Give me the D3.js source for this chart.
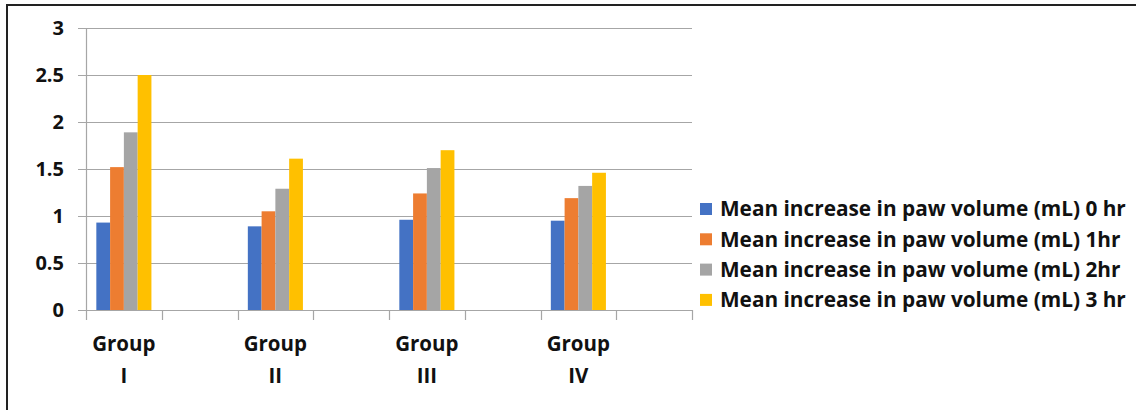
<!DOCTYPE html>
<html><head><meta charset="utf-8">
<script src="https://cdn.jsdelivr.net/npm/d3@7"></script>
<style>body{margin:0;background:#fff}svg{display:block}text{font-family:"Open Sans",sans-serif;font-weight:bold;fill:#111}</style>
</head><body><svg id="c" width="1136" height="410"></svg>
<script>
const slots = ["Group I", "gap1", "Group II", "gap2", "Group III", "gap3", "Group IV", "gap4"];
const groups = ["Group I", "Group II", "Group III", "Group IV"];
const seriesNames = [
  "Mean increase in paw volume (mL) 0 hr",
  "Mean increase in paw volume (mL) 1hr",
  "Mean increase in paw volume (mL) 2hr",
  "Mean increase in paw volume (mL) 3 hr"
];
const hr0 = [0.93, 0.89, 0.96, 0.95];
const hr1 = [1.52, 1.05, 1.24, 1.19];
const hr2 = [1.89, 1.29, 1.51, 1.32];
const hr3 = [2.50, 1.61, 1.70, 1.46];
const yTicks = [0, 0.5, 1, 1.5, 2, 2.5, 3];
const colors = ["#4472C4", "#ED7D31", "#A5A5A5", "#FFC000"];
const seriesValues = [hr0, hr1, hr2, hr3];

const svg = d3.select("#c");
svg.append("path").attr("d","M7,412 V5 H1140").attr("fill","none").attr("stroke","#222").attr("stroke-width",2);

const L = 86, T = 28, W = 606, H = 282;
const x = d3.scaleBand().domain(slots).range([L, L + W]);
const y = d3.scaleLinear().domain([0, 3]).range([T + H, T]);
const x1 = d3.scaleBand().domain(d3.range(4)).range([0, x.bandwidth()]).paddingOuter(0.75).paddingInner(0);

svg.append("g").selectAll("line").data(yTicks).join("line")
  .attr("x1", L - 8).attr("x2", L + W)
  .attr("y1", d => Math.round(y(d)) + 0.5).attr("y2", d => Math.round(y(d)) + 0.5)
  .attr("stroke", "#a6a6a6").attr("stroke-width", 1.2);
svg.append("line").attr("x1", L + 0.5).attr("x2", L + 0.5).attr("y1", T).attr("y2", T + H)
  .attr("stroke", "#a6a6a6").attr("stroke-width", 1.2);
svg.append("g").selectAll("text").data(yTicks).join("text")
  .attr("x", 64).attr("y", d => y(d)).attr("dy", "0.36em").attr("text-anchor", "end")
  .style("font-size", "20px").text(d => d);

seriesValues.forEach((vals, si) => {
  svg.append("g").selectAll("rect").data(vals).join("rect")
    .attr("x", (d, i) => x(slots[i * 2]) + x1(si))
    .attr("width", x1.bandwidth())
    .attr("y", d => y(d))
    .attr("height", d => y(0) - y(d))
    .attr("fill", colors[si]);
});

svg.append("line").attr("x1", L - 8).attr("x2", L + W).attr("y1", Math.round(y(0)) + 0.5).attr("y2", Math.round(y(0)) + 0.5)
  .attr("stroke", "#a6a6a6").attr("stroke-width", 1.2);
const tickXs = slots.map(s => x(s)).concat([L + W]);
svg.append("g").selectAll("line").data(tickXs).join("line")
  .attr("x1", d => Math.round(d) + 0.5).attr("x2", d => Math.round(d) + 0.5)
  .attr("y1", y(0)).attr("y2", y(0) + 10)
  .attr("stroke", "#a6a6a6").attr("stroke-width", 1.2);

groups.forEach((gname, i) => {
  const cx = x(slots[i * 2]) + x.bandwidth() / 2;
  const parts = gname.split(" ");
  const t = svg.append("text").attr("text-anchor", "middle").style("font-size", "20.5px");
  t.append("tspan").attr("x", cx).attr("y", 351).text(parts[0]);
  t.append("tspan").attr("x", cx).attr("y", 383).text(parts[1]);
});

const lg = svg.append("g");
seriesNames.forEach((name, i) => {
  const cy = 209 + i * 30.3;
  lg.append("rect").attr("x", 700).attr("y", cy - 6).attr("width", 12).attr("height", 12).attr("fill", colors[i]);
  lg.append("text").attr("x", 720).attr("y", cy).attr("dy", "0.36em").style("font-size", "20.8px").text(name);
});
</script></body></html>
